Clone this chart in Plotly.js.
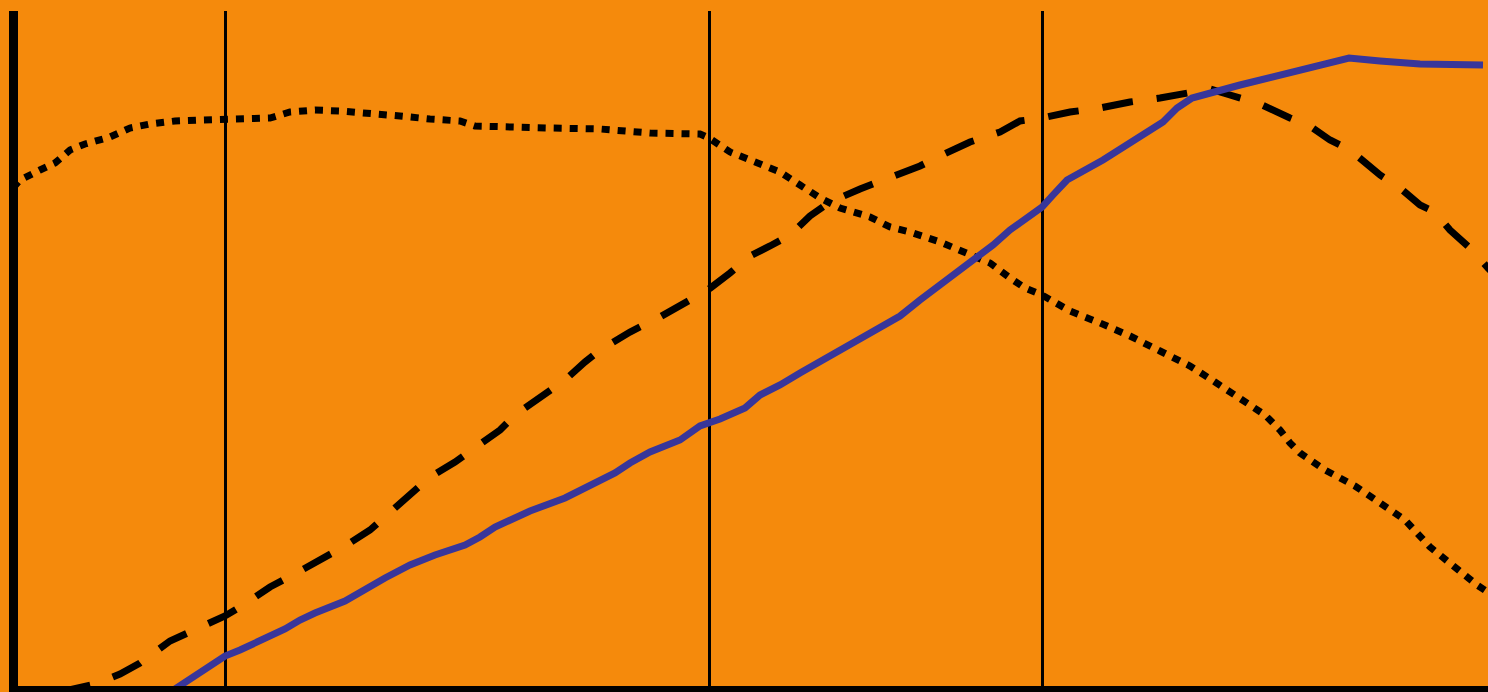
<!DOCTYPE html>
<html>
<head>
<meta charset="utf-8">
<script src="https://cdn.plot.ly/plotly-3.0.1.min.js"></script>
<style>
    html, body { margin: 0; padding: 0; overflow: hidden; background: #F58A0C; }
</style>
</head>
<body>
<div id="plot"></div>
<script>
// dotted series
const dottedX = [-0.7, 0, 2, 3.5, 5, 6.5, 9, 11, 13, 15.5, 18, 20.5, 23, 25, 27, 29.5, 32, 35, 38, 41, 44, 45.5, 48, 53, 58, 60.5, 63, 68, 68.9, 71, 74, 76, 78, 80, 82, 85, 87, 89, 92, 95, 97, 99, 100.5, 102.2, 105, 108, 111, 114, 117, 119.5, 122, 124.5, 126, 127, 128, 130.5, 133.5, 136, 138.5, 141, 143.5, 145.7, 148];
const dottedY = [49.8, 50.6, 51.6, 52.3, 53.6, 54.2, 54.9, 55.8, 56.2, 56.5, 56.6, 56.7, 56.8, 56.8, 57.4, 57.6, 57.5, 57.3, 57.0, 56.7, 56.5, 56.0, 55.9, 55.8, 55.7, 55.5, 55.3, 55.2, 54.8, 53.4, 52.3, 51.4, 50.1, 48.8, 47.8, 46.9, 45.9, 45.4, 44.4, 43.2, 42.3, 40.8, 39.8, 39.1, 37.5, 36.3, 35.0, 33.5, 32.0, 30.4, 28.7, 27.1, 25.6, 24.3, 23.3, 21.6, 20.0, 18.4, 16.6, 13.9, 11.8, 10.1, 8.6];

// dashed series
const dashedX = [4, 7.5, 10, 12, 15, 18, 20.5, 22.5, 25, 28, 30, 32.5, 35, 37, 39, 41, 43.5, 46, 48, 49.5, 52, 54.5, 56.5, 58, 61, 64, 67, 68.9, 71, 73, 75, 77, 79, 81, 84, 87, 90, 92, 95, 98, 100, 102.2, 105, 108, 111, 114, 117, 119, 121, 124, 127, 129, 131, 133, 136, 138, 140, 141.5, 143, 145, 146.8, 148];
const dashedY = [-0.6, 0.2, 1.2, 2.3, 4.5, 5.8, 7.0, 8.2, 9.9, 11.5, 12.6, 14.0, 15.6, 17.4, 19.2, 20.9, 22.4, 24.1, 25.6, 27.1, 28.8, 30.6, 32.4, 33.6, 35.4, 36.9, 38.6, 39.7, 41.3, 43.0, 44.0, 45.1, 47.0, 48.4, 49.7, 50.8, 52.0, 53.0, 54.4, 55.4, 56.5, 56.8, 57.4, 57.8, 58.4, 58.8, 59.4, 59.7, 59.1, 58.2, 56.8, 56.0, 54.6, 53.6, 51.1, 49.8, 48.1, 47.4, 45.6, 43.8, 41.8, 40.6];

// solid blue series
const blueX = [15.5, 18, 20.5, 22, 24, 26.5, 28, 29.5, 32.5, 34, 36.5, 39, 41.5, 44.5, 46, 47.5, 51, 54.5, 57.5, 59.5, 61, 63, 66, 68, 70, 72.5, 74, 76, 78, 81, 84, 86, 88, 90, 92, 94, 95, 97.3, 99, 102.2, 103.3, 104.7, 108.3, 112.7, 114.3, 115.7, 117.2, 122, 127, 130.8, 132.9, 136, 140, 146.3];
const blueY = [-0.3, 1.4, 3.0, 3.6, 4.5, 5.7, 6.6, 7.3, 8.5, 9.4, 10.8, 12.1, 13.1, 14.1, 14.9, 15.9, 17.5, 18.8, 20.3, 21.3, 22.3, 23.4, 24.6, 26.0, 26.7, 27.8, 29.1, 30.1, 31.3, 33.0, 34.7, 35.7, 37.0, 38.6, 40.1, 41.8, 42.4, 44.1, 45.6, 47.9, 49.1, 50.6, 52.6, 55.4, 56.4, 57.8, 58.8, 60.1, 61.4, 62.3, 62.8, 62.5, 62.2, 62.1];

// vertical reference lines
const markerX = [20.5, 68.9, 102.2];

const orange = '#F58A0C';

const trace1 = {
    x: dottedX,
    y: dottedY,
    type: 'scatter',
    mode: 'lines',
    line: { color: '#000000', width: 7, dash: '8px,8px' },
    name: 'dotted'
};
const trace2 = {
    x: dashedX,
    y: dashedY,
    type: 'scatter',
    mode: 'lines',
    line: { color: '#000000', width: 7, dash: '31px,24px' },
    name: 'dashed'
};
const trace3 = {
    x: blueX,
    y: blueY,
    type: 'scatter',
    mode: 'lines',
    line: { color: '#38369A', width: 7 },
    name: 'solid'
};

const layout = {
    width: 1500,
    height: 700,
    margin: { l: 18, r: 0, t: 11, b: 14, pad: 0 },
    paper_bgcolor: orange,
    plot_bgcolor: orange,
    showlegend: false,
    xaxis: {
        range: [-0.2, 148],
        showline: true,
        linecolor: '#000000',
        linewidth: 9,
        showgrid: true,
        gridcolor: '#000000',
        gridwidth: 3,
        tickmode: 'array',
        tickvals: markerX,
        showticklabels: false,
        ticks: '',
        zeroline: false,
        title: { text: '' }
    },
    yaxis: {
        range: [0, 67.5],
        showline: true,
        linecolor: '#000000',
        linewidth: 9,
        showgrid: false,
        showticklabels: false,
        ticks: '',
        zeroline: false,
        title: { text: '' }
    }
};

Plotly.newPlot('plot', [trace1, trace2, trace3], layout, { displayModeBar: false, staticPlot: true });
</script>
</body>
</html>
